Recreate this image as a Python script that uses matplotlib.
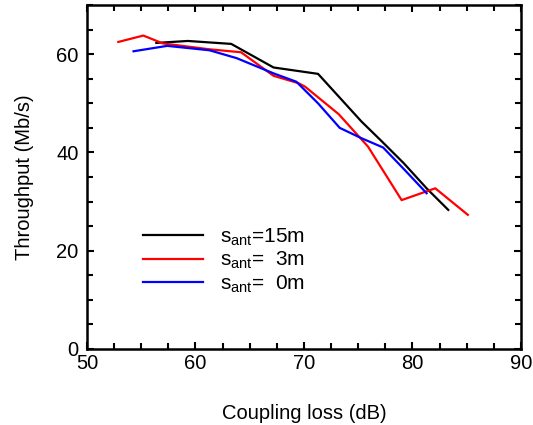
import matplotlib
matplotlib.use("Agg")
import matplotlib.pyplot as plt
from matplotlib.ticker import MultipleLocator

plt.rcParams['font.family'] = ['Liberation Sans', 'DejaVu Sans']
plt.rcParams['mathtext.fontset'] = 'custom'
plt.rcParams['mathtext.rm'] = 'Liberation Sans'
plt.rcParams['mathtext.it'] = 'Liberation Sans'

x_15 = [56.4, 59.3, 63.3, 67.2, 71.3, 75.3, 77.2, 79.2, 81.3, 83.3]
y_15 = [62.3, 62.7, 62.1, 57.3, 56.0, 46.3, 42.2, 37.8, 32.7, 28.3]

x_3 = [52.9, 55.2, 57.0, 61.3, 64.2, 67.2, 69.5, 70.1, 73.2, 75.9, 79.0, 82.1, 85.1]
y_3 = [62.5, 63.8, 62.2, 61.0, 60.4, 55.6, 54.1, 53.4, 47.8, 41.2, 30.3, 32.7, 27.3]

x_0 = [54.3, 57.4, 61.3, 63.8, 67.2, 69.3, 71.3, 73.3, 75.3, 77.3, 79.3, 81.3]
y_0 = [60.6, 61.7, 60.8, 59.2, 56.1, 54.4, 50.0, 45.0, 42.9, 41.0, 36.4, 31.7]

labels = [r'$\mathregular{s_{ant}}$=15m', r'$\mathregular{s_{ant}}$=  3m', r'$\mathregular{s_{ant}}$=  0m']

fig = plt.figure(figsize=(5.33, 4.25), dpi=100)
ax = fig.add_axes([0.163, 0.179, 0.8145, 0.809])
ax.plot(x_15, y_15, color='black', lw=1.6, label=labels[0])
ax.plot(x_3, y_3, color='#ff0000', lw=1.6, label=labels[1])
ax.plot(x_0, y_0, color='#0000ff', lw=1.6, label=labels[2])

ax.set_xlim(50, 90)
ax.set_ylim(0, 70)
ax.xaxis.set_major_locator(MultipleLocator(10))
ax.xaxis.set_minor_locator(MultipleLocator(2.5))
ax.yaxis.set_major_locator(MultipleLocator(20))
ax.yaxis.set_minor_locator(MultipleLocator(5))
ax.tick_params(which='both', direction='in', top=True, right=True, width=1.5, labelsize=14.5)
ax.tick_params(which='major', length=5)
ax.tick_params(which='minor', length=4)
ax.tick_params(axis='y', which='major', pad=6)
ax.tick_params(axis='x', which='major', pad=4)
for s in ax.spines.values():
    s.set_linewidth(1.8)
ax.set_xlabel('Coupling loss (dB)', fontsize=14.5, labelpad=22)
ax.set_ylabel('Throughput (Mb/s)', fontsize=14.5, labelpad=16)

ax.legend(loc='upper left', bbox_to_anchor=(0.129, 0.356), frameon=False, fontsize=15,
          handlelength=2.9, handletextpad=0.8, labelspacing=0.1, borderpad=0,
          borderaxespad=0)

fig.savefig('out.png', dpi=100)
